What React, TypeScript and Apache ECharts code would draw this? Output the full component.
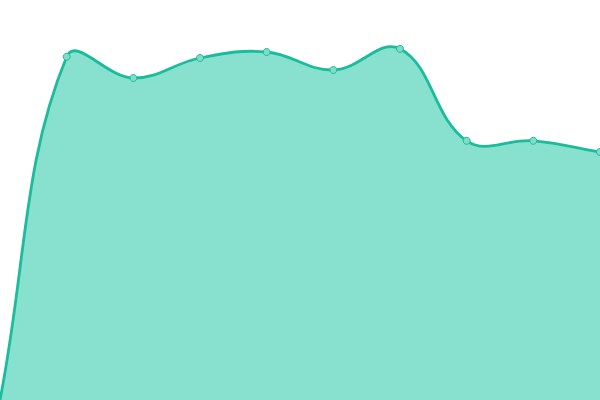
import { useEffect, useRef } from "react";
import * as echarts from "echarts";

const categories = ["1", "2", "3", "4", "5", "6", "7", "8", "9", "10"];
const values = [0, 85.8, 80.5, 85.5, 87, 82.5, 87.8, 64.8, 64.8, 62];

const TENSION = 0.4;

// 样条曲线路径（允许过冲，ECharts 自带 smooth 会截断控制点）
function buildSplinePath(pts: number[][]): string {
  const n = pts.length;
  const cps: { prev: number[]; next: number[] }[] = [];
  for (let i = 0; i < n; i++) {
    const p0 = pts[Math.max(0, i - 1)];
    const p1 = pts[i];
    const p2 = pts[Math.min(n - 1, i + 1)];
    const d01 = Math.hypot(p1[0] - p0[0], p1[1] - p0[1]);
    const d12 = Math.hypot(p2[0] - p1[0], p2[1] - p1[1]);
    const sum = d01 + d12 || 1;
    const fa = (TENSION * d01) / sum;
    const fb = (TENSION * d12) / sum;
    cps.push({
      prev: [p1[0] - fa * (p2[0] - p0[0]), p1[1] - fa * (p2[1] - p0[1])],
      next: [p1[0] + fb * (p2[0] - p0[0]), p1[1] + fb * (p2[1] - p0[1])],
    });
  }
  let d = `M${pts[0][0]},${pts[0][1]}`;
  for (let i = 1; i < n; i++) {
    const c1 = cps[i - 1].next;
    const c2 = cps[i].prev;
    d += ` C${c1[0]},${c1[1]} ${c2[0]},${c2[1]} ${pts[i][0]},${pts[i][1]}`;
  }
  return d;
}

export default function App() {
  const chartRef = useRef<HTMLDivElement | null>(null);

  useEffect(() => {
    if (!chartRef.current) {
      return;
    }
    document.body.style.margin = "0";

    const chart = echarts.init(chartRef.current, null, { renderer: "svg" });

    chart.setOption({
      animation: false,
      grid: { left: 0, right: 0, top: 0, bottom: 0 },
      xAxis: {
        type: "category",
        data: categories,
        boundaryGap: false,
        show: false,
      },
      yAxis: {
        type: "value",
        min: 0,
        max: 100,
        show: false,
      },
      series: [
        {
          type: "custom",
          data: values.map((v, i) => [i, v]),
          clip: true,
          silent: true,
          renderItem: (params: any, api: any) => {
            if (params.dataIndex !== 0) {
              return null;
            }
            const pts = values.map((v, i) => api.coord([i, v]));
            const base = api.coord([0, 0])[1];
            const line = buildSplinePath(pts);
            const last = pts[pts.length - 1];
            const area = `${line} L${last[0]},${base} L${pts[0][0]},${base} Z`;
            return {
              type: "group",
              children: [
                {
                  type: "path",
                  shape: { pathData: area },
                  style: { fill: "#88e0cf", stroke: "none" },
                },
                {
                  type: "path",
                  shape: { pathData: line },
                  style: { fill: "none", stroke: "#1abc9c", lineWidth: 2.8 },
                },
              ],
            };
          },
        },
        {
          type: "line",
          data: values,
          symbol: "circle",
          // 第一个点在图表底边之外，不显示
          symbolSize: (_v: number, p: any) => (p.dataIndex === 0 ? 0 : 7),
          lineStyle: { opacity: 0 },
          itemStyle: {
            color: "#80dcc9",
            borderColor: "#1abc9c",
            borderWidth: 1,
          },
          z: 5,
        },
      ],
    });

    return () => {
      chart.dispose();
    };
  }, []);

  return <div ref={chartRef} style={{ width: 600, height: 400 }} />;
}
